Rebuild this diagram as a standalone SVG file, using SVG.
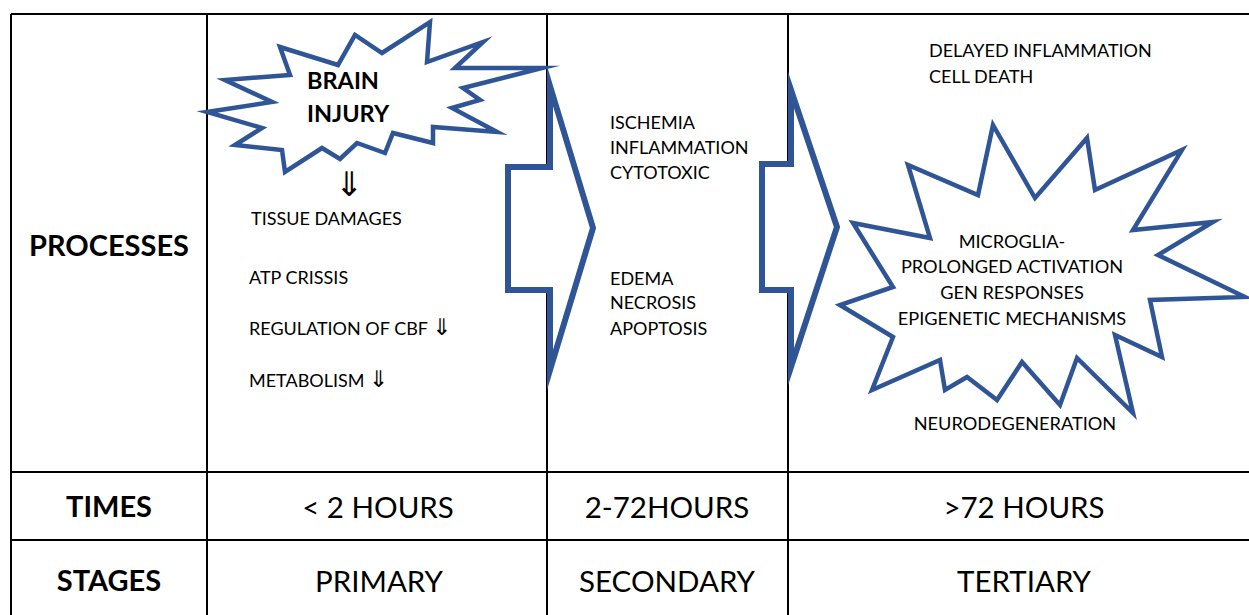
<svg xmlns="http://www.w3.org/2000/svg" width="1249" height="615" viewBox="0 0 1249 615">
<style>
.grid{stroke:#000;stroke-width:2;fill:none}
.blue{fill:#fff;stroke:#2F5597;stroke-width:4.5;stroke-linejoin:miter;stroke-miterlimit:20}
.arrow{fill:#fff;stroke:#2F5597;stroke-width:6;stroke-linejoin:miter;stroke-miterlimit:20}
.t{font-family:Lato,"DejaVu Sans",sans-serif;font-size:18px;fill:#000}
.m{font-family:Lato,"DejaVu Sans",sans-serif;font-size:18.2px;fill:#000;text-anchor:middle}
.h{font-family:Lato,"DejaVu Sans",sans-serif;font-weight:bold;font-size:29px;fill:#000}
.big{font-family:Lato,"DejaVu Sans",sans-serif;font-size:29.5px;fill:#000;text-anchor:middle}
.bb{font-family:Lato,"DejaVu Sans",sans-serif;font-weight:bold;font-size:23.5px;fill:#000}
.sym{font-family:"DejaVu Sans",sans-serif}
</style>
<rect width="1249" height="615" fill="#fff"/>
<g id="table">
<line class="grid" x1="11" y1="14" x2="1249" y2="14"/>
<line class="grid" x1="11" y1="14" x2="11" y2="615"/>
<line class="grid" x1="207" y1="14" x2="207" y2="615"/>
<line class="grid" x1="547" y1="14" x2="547" y2="615"/>
<line class="grid" x1="788" y1="14" x2="788" y2="615"/>
<line class="grid" x1="11" y1="472" x2="1249" y2="472"/>
<line class="grid" x1="11" y1="540" x2="1249" y2="540"/>
</g>
<g id="connectors">
<polygon id="arrow1" class="arrow" points="550,86 593,228 550,370 550,290 508,290 508,167 550,167"/>
<polygon id="arrow2" class="arrow" points="791,90 837,227 791,367 791,290 762,290 762,164 791,164"/>
</g>
<g id="brain-injury">
<polygon class="blue" points="280,47 338,65 355,35 382,53 430,22 427,62 483,42 455,68 542,68 463,88 480,100 452,108 497,132 433,127 433,143 393,133 385,153 357,143 340,159 322,148 285,172 282,150 235,145 262,128 207,112 272,102 225,80 290,75"/>
<text class="bb" x="307" y="89">BRAIN</text>
<text class="bb" x="307" y="122">INJURY</text>
</g>
<g id="primary-processes">
<text class="sym" x="349" y="196" font-size="34" text-anchor="middle">⇓</text>
<text class="t" x="251" y="225">TISSUE DAMAGES</text>
<text class="t" x="249" y="284">ATP CRISSIS</text>
<text class="t" x="249" y="335">REGULATION OF CBF <tspan class="sym" font-size="23">⇓</tspan></text>
<text class="t" x="249" y="387">METABOLISM <tspan class="sym" font-size="23">⇓</tspan></text>
</g>
<g id="secondary-processes">
<text class="t" x="610" y="129">ISCHEMIA</text>
<text class="t" x="610" y="154">INFLAMMATION</text>
<text class="t" x="610" y="179">CYTOTOXIC</text>
<text class="t" x="610" y="285">EDEMA</text>
<text class="t" x="610" y="309">NECROSIS</text>
<text class="t" x="610" y="335">APOPTOSIS</text>
</g>
<g id="tertiary-processes">
<text class="t" x="929" y="57">DELAYED INFLAMMATION</text>
<text class="t" x="929" y="83">CELL DEATH</text>
<polygon class="blue" points="993,125 1035,198 1087,138 1095,190 1182,150 1133,230 1213,222 1158,255 1245,297 1150,300 1162,357 1115,335 1133,413 1077,358 1060,405 1022,362 997,400 967,377 945,390 940,360 872,390 893,337 840,305 893,287 853,223 930,238 908,165 978,195"/>
<text class="m" x="1012" y="248">MICROGLIA-</text>
<text class="m" x="1012" y="273">PROLONGED ACTIVATION</text>
<text class="m" x="1012" y="299">GEN RESPONSES</text>
<text class="m" x="1012" y="325">EPIGENETIC MECHANISMS</text>
<text class="m" x="1015" y="430">NEURODEGENERATION</text>
</g>
<g id="labels">
<text class="h" x="109" y="256" text-anchor="middle">PROCESSES</text>
<text class="h" x="109" y="517" text-anchor="middle">TIMES</text>
<text class="h" x="109" y="591" text-anchor="middle">STAGES</text>
<text class="big" x="378" y="518">&lt; 2 HOURS</text>
<text class="big" x="667" y="518">2-72HOURS</text>
<text class="big" x="1024" y="518">&gt;72 HOURS</text>
<text class="big" x="379" y="592">PRIMARY</text>
<text class="big" x="667" y="592">SECONDARY</text>
<text class="big" x="1024" y="592">TERTIARY</text>
</g>
</svg>
